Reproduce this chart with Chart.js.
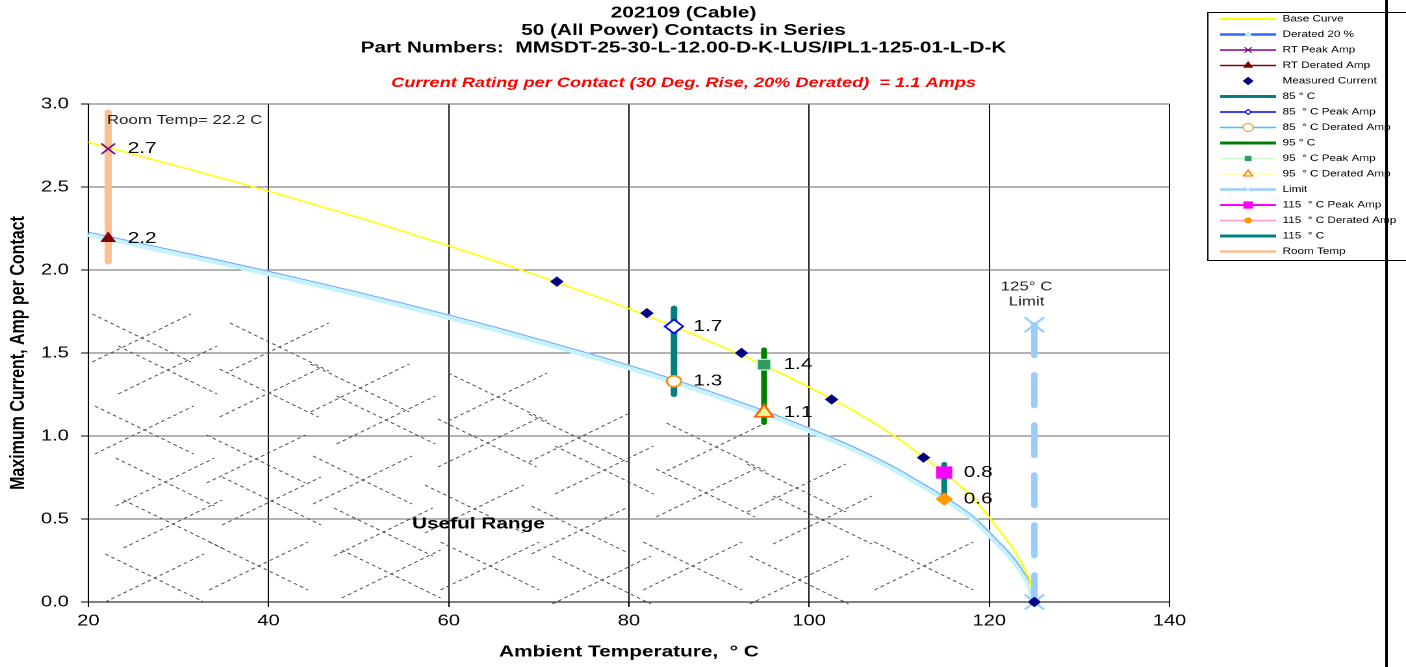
<!DOCTYPE html>
<html>
<head>
<meta charset="utf-8">
<script src="https://cdn.jsdelivr.net/npm/chart.js@4.4.1/dist/chart.umd.min.js"></script>
<style>
html, body { margin: 0; padding: 0; background: #fff; overflow: hidden; }
canvas { display: block; }
</style>
</head>
<body>
<!-- le canvas est dessiné à 1082 px de large puis étiré à 1406 px, comme l'original -->
<canvas id="graphique" width="1082" height="667" style="width:1406px;height:667px"></canvas>
<script>
const FONT = "'Liberation Sans', Arial, sans-serif";

// Courbes
const curveTemps = [20, 25, 30, 35, 40, 45, 50, 55, 60, 65, 70, 75, 80, 85, 90, 95, 100, 105, 110, 112, 114, 116, 118, 120, 121, 122, 123, 124, 124.5, 125];
const baseCurve = [2.770, 2.697, 2.624, 2.551, 2.475, 2.396, 2.316, 2.232, 2.146, 2.057, 1.964, 1.867, 1.767, 1.660, 1.546, 1.425, 1.294, 1.150, 0.980, 0.900, 0.820, 0.735, 0.640, 0.510, 0.440, 0.370, 0.290, 0.190, 0.130, 0];
const derated20 = [2.216, 2.158, 2.099, 2.041, 1.980, 1.917, 1.853, 1.786, 1.717, 1.646, 1.571, 1.494, 1.414, 1.328, 1.237, 1.140, 1.035, 0.920, 0.784, 0.720, 0.656, 0.588, 0.512, 0.408, 0.352, 0.296, 0.232, 0.152, 0.104, 0];

// Mesures
const measuredTemps = [72, 82, 92.5, 102.5, 112.7, 125];
const measuredAmps = [1.93, 1.74, 1.50, 1.22, 0.87, 0];

// Room temp, 85, 95, 115 °C
const markerTemps = [22.2, 85, 95, 115];
const peakAmps = [2.73, 1.66, 1.43, 0.78];
const deratedAmps = [2.19, 1.33, 1.14, 0.62];
const barLow = [2.05, 1.25, 1.08, 0.60];
const barHigh = [2.95, 1.77, 1.52, 0.83];

// Limite 125 °C
const limitTemp = 125;
const limitAmps = [1.67, 0];

// Axes
const xTicks = [20, 40, 60, 80, 100, 120, 140];
const yTicks = [0, 0.5, 1.0, 1.5, 2.0, 2.5, 3.0];

const titreLignes = ['202109 (Cable)', '50 (All Power) Contacts in Series', 'Part Numbers:  MMSDT-25-30-L-12.00-D-K-LUS/IPL1-125-01-L-D-K'];
const sousTitre = 'Current Rating per Contact (30 Deg. Rise, 20% Derated)  = 1.1 Amps';

function pts(xs, ys) {
    return xs.map((x, i) => ({ x: x, y: ys[i] }));
}
function bar(i) {
    return [{ x: markerTemps[i], y: barLow[i] }, { x: markerTemps[i], y: barHigh[i] }];
}
function point(x, y) {
    return [{ x: x, y: y }];
}

const datasets = [
    {
        label: 'Base Curve', data: pts(curveTemps, baseCurve),
        borderColor: '#ffff00', borderWidth: 1.5, pointRadius: 0, cubicInterpolationMode: 'monotone', order: 7,
        leg: { line: '#ffff00', lw: 2 }
    },
    {
        label: 'Derated 20 %', data: pts(curveTemps, derated20), shiftUp: 2,
        borderColor: '#7b96ff', borderWidth: 0.8, pointRadius: 0, cubicInterpolationMode: 'monotone', order: 8,
        leg: { line: '#3366ff', lw: 2.5, style: 'circle', r: 2, fill: '#cce8ff', stroke: '#cce8ff' }
    },
    {
        label: 'RT Peak Amp', data: point(markerTemps[0], peakAmps[0]), showLine: false,
        pointStyle: 'crossRot', pointRadius: 7.5, pointBorderColor: '#800080', pointBorderWidth: 1.5, order: 1,
        leg: { line: '#800080', lw: 1.5, style: 'crossRot', r: 4, fill: '#800080', stroke: '#800080' }
    },
    {
        label: 'RT Derated Amp', data: point(markerTemps[0], deratedAmps[0]), showLine: false,
        pointStyle: 'triangle', pointRadius: 6, pointBackgroundColor: '#800000', pointBorderColor: '#800000', pointBorderWidth: 1, order: 1,
        leg: { line: '#800000', lw: 1.5, style: 'triangle', r: 3.5, fill: '#800000', stroke: '#800000' }
    },
    {
        label: 'Measured Current', data: pts(measuredTemps, measuredAmps), showLine: false,
        pointStyle: 'rectRot', pointRadius: 4.5, pointBackgroundColor: '#000080', pointBorderColor: '#000080', pointBorderWidth: 1, order: 0,
        leg: { style: 'rectRot', r: 3.5, fill: '#000080', stroke: '#000080' }
    },
    {
        label: '85 ° C', data: bar(1),
        borderColor: '#008080', borderWidth: 5, borderCapStyle: 'round', pointRadius: 0, order: 5,
        leg: { line: '#008080', lw: 3 }
    },
    {
        label: '85  ° C Peak Amp', data: point(markerTemps[1], peakAmps[1]), showLine: false,
        pointStyle: 'rectRot', pointRadius: 7, pointBackgroundColor: '#ffffff', pointBorderColor: '#0000ff', pointBorderWidth: 1.6, order: 1,
        leg: { line: '#0000ff', lw: 1.5, style: 'rectRot', r: 2.5, fill: '#ffffff', stroke: '#0000ff' }
    },
    {
        label: '85  ° C Derated Amp', data: point(markerTemps[1], deratedAmps[1]), showLine: false,
        pointStyle: 'circle', pointRadius: 5.5, pointBackgroundColor: '#ffffff', pointBorderColor: '#f39a1f', pointBorderWidth: 1.8, order: 1,
        leg: { line: '#33ccff', lw: 1.5, style: 'circle', r: 4, fill: '#ffffff', stroke: '#f39a1f' }
    },
    {
        label: '95 ° C', data: bar(2),
        borderColor: '#008000', borderWidth: 4.5, borderCapStyle: 'round', pointRadius: 0, order: 5,
        leg: { line: '#008000', lw: 3 }
    },
    {
        label: '95  ° C Peak Amp', data: point(markerTemps[2], peakAmps[2]), showLine: false,
        pointStyle: 'rect', pointRadius: 7.5, pointBackgroundColor: '#339966', pointBorderColor: '#ccffcc', pointBorderWidth: 1.2, order: 1,
        leg: { line: '#ccffcc', lw: 1.5, style: 'rect', r: 3, fill: '#339966', stroke: '#339966' }
    },
    {
        label: '95  ° C Derated Amp', data: point(markerTemps[2], deratedAmps[2]), showLine: false,
        pointStyle: 'triangle', pointRadius: 8, pointBackgroundColor: '#ffff99', pointBorderColor: '#ff6600', pointBorderWidth: 1.8, order: 1,
        leg: { line: '#ffff99', lw: 1.5, style: 'triangle', r: 4, fill: '#ffff99', stroke: '#ff6600' }
    },
    {
        label: 'Limit', data: [{ x: limitTemp, y: limitAmps[0] }, { x: limitTemp, y: limitAmps[1] }],
        borderColor: '#99ccff', borderWidth: 5, borderDash: [31, 19], borderCapStyle: 'round',
        pointStyle: 'crossRot', pointRadius: 10.5, pointBorderColor: '#99ccff', pointBorderWidth: 2, order: 3,
        leg: { line: '#99ccff', lw: 2.5, style: 'crossRot', r: 4, fill: '#99ccff', stroke: '#e0efff' }
    },
    {
        label: '115  ° C Peak Amp', data: point(markerTemps[3], peakAmps[3]), showLine: false,
        pointStyle: 'rect', pointRadius: 8, pointBackgroundColor: '#ff00ff', pointBorderColor: '#ff00ff', pointBorderWidth: 1, order: 1,
        leg: { line: '#ff00ff', lw: 2, style: 'rect', r: 4.5, fill: '#ff00ff', stroke: '#ff00ff' }
    },
    {
        label: '115  ° C Derated Amp', data: point(markerTemps[3], deratedAmps[3]), showLine: false,
        pointStyle: 'rectRot', pointRadius: 6, pointBackgroundColor: '#ff9900', pointBorderColor: '#ff9900', pointBorderWidth: 1, order: 1,
        leg: { line: '#ff99cc', lw: 1.5, style: 'circle', r: 2.5, fill: '#ff9900', stroke: '#ff9900' }
    },
    {
        label: '115  ° C', data: bar(3),
        borderColor: '#008080', borderWidth: 4.5, borderCapStyle: 'round', pointRadius: 0, order: 5,
        leg: { line: '#008080', lw: 3 }
    },
    {
        label: 'Room Temp', data: bar(0),
        borderColor: '#fac090', borderWidth: 5.5, borderCapStyle: 'round', pointRadius: 0, order: 5,
        leg: { line: '#fac090', lw: 2.5 }
    },
    {
        // bande cyan sous la courbe déclassée (pas dans la légende)
        label: '', data: pts(curveTemps, derated20), band: true,
        borderColor: '#c4f3fb', borderWidth: 5.5, pointRadius: 0, cubicInterpolationMode: 'monotone', order: 9
    }
];
datasets.forEach(ds => { ds.clip = false; ds.fill = false; });

// petits décalages fixes pour casser la régularité des hachures
const decalX = [0, 10, -6, 14, -10, 4, 8, -4, 12, -8, 6];
const decalY = [0, -8, 6, -4, 10, -10, 4, 8, -6, 2, -2];

// Hachures en X sous la courbe déclassée
function dessinerHachures(chart) {
    const c = chart.ctx;
    const area = chart.chartArea;
    const idx = chart.data.datasets.findIndex(ds => ds.band);
    const p = chart.getDatasetMeta(idx).data;
    const courbeY = px => {
        for (let i = 0; i < p.length - 1; i++) {
            if (px >= p[i].x && px <= p[i + 1].x) {
                const t = (px - p[i].x) / (p[i + 1].x - p[i].x);
                return p[i].y + t * (p[i + 1].y - p[i].y);
            }
        }
        return px < p[0].x ? p[0].y : area.bottom;
    };
    c.save();
    c.strokeStyle = '#4a4a4a';
    c.lineWidth = 0.9;
    c.setLineDash([3, 2.5]);
    for (let col = 0; col < 9; col++) {
        for (let row = 0; row < 10; row++) {
            const k = (row * 3 + col * 7) % decalX.length;
            const cx = area.left + 51 + col * 84 + decalX[k];
            let cy = area.bottom - 24 - row * 50 - (col % 2) * 25 + decalY[k];
            if (row === 0) cy = Math.max(Math.min(cy, area.bottom - 22), area.bottom - 36);
            if (cx + 38 > 762) continue;
            if (cy - 24 < courbeY(cx + 38) + 6) continue;
            c.beginPath();
            c.moveTo(cx - 38, cy - 24);
            c.lineTo(cx + 38, cy + 24);
            c.moveTo(cx - 38, cy + 24);
            c.lineTo(cx + 38, cy - 24);
            c.stroke();
        }
    }
    c.restore();
}

// Valeurs écrites à côté des marqueurs + textes dans le graphique
function dessinerTextes(chart) {
    const c = chart.ctx;
    const xs = chart.scales.x;
    const ys = chart.scales.y;
    c.save();
    c.fillStyle = '#000';
    c.textBaseline = 'middle';
    c.textAlign = 'left';
    c.font = '16px ' + FONT;
    markerTemps.forEach((t, i) => {
        const px = xs.getPixelForValue(t) + 15;
        c.fillText(peakAmps[i].toFixed(1), px, ys.getPixelForValue(peakAmps[i]));
        c.fillText(deratedAmps[i].toFixed(1), px, ys.getPixelForValue(deratedAmps[i]));
    });

    c.fillStyle = '#222';
    c.font = '13px ' + FONT;
    c.fillText('Room Temp= 22.2 C', xs.getPixelForValue(markerTemps[0]) - 1, ys.getPixelForValue(2.9));

    c.textAlign = 'center';
    const lx = xs.getPixelForValue(limitTemp) - 6;
    const ly = ys.getPixelForValue(limitAmps[0]);
    c.fillText('125° C', lx, ly - 38);
    c.fillText('Limit', lx, ly - 23);

    c.fillStyle = '#000';
    c.font = 'bold 16px ' + FONT;
    c.fillText('Useful Range', xs.getPixelForValue(63.3), ys.getPixelForValue(0.47));
    c.restore();
}

function dessinerLegende(chart) {
    const c = chart.ctx;
    c.save();
    c.strokeStyle = '#000';
    c.lineWidth = 1;
    c.strokeRect(929.5, 12.5, 200, 248);
    c.textBaseline = 'middle';
    c.textAlign = 'left';
    c.font = '9px ' + FONT;
    let row = 0;
    chart.data.datasets.forEach(ds => {
        if (!ds.leg) return;
        const leg = ds.leg;
        const y = 19 + row * 15.5;
        if (leg.line) {
            c.strokeStyle = leg.line;
            c.lineWidth = leg.lw;
            c.beginPath();
            c.moveTo(939, y);
            c.lineTo(982, y);
            c.stroke();
        }
        if (leg.style) {
            c.fillStyle = leg.fill;
            c.strokeStyle = leg.stroke;
            c.lineWidth = 1;
            Chart.helpers.drawPoint(c, { pointStyle: leg.style, radius: leg.r, borderWidth: 1, rotation: 0 }, 960.5, y);
        }
        c.fillStyle = '#000';
        c.fillText(ds.label, 987, y);
        row++;
    });
    // trait noir vertical à droite
    c.fillRect(1066, 0, 2, 667);
    c.restore();
}

function dessinerTitres(chart) {
    const c = chart.ctx;
    const area = chart.chartArea;
    c.save();
    c.textAlign = 'center';
    c.textBaseline = 'middle';
    c.fillStyle = '#000';
    c.font = 'bold 16px ' + FONT;
    titreLignes.forEach((t, i) => c.fillText(t, 526, 13 + i * 17.5));
    c.fillStyle = '#ff0000';
    c.font = 'italic bold 14px ' + FONT;
    c.fillText(sousTitre, 526, 83);

    c.fillStyle = '#000';
    c.font = 'bold 16px ' + FONT;
    c.fillText('Ambient Temperature,  ° C', (area.left + area.right) / 2, 652);
    c.translate(14, (area.top + area.bottom) / 2);
    c.rotate(-Math.PI / 2);
    c.fillText('Maximum Current, Amp per Contact', 0, 0);
    c.restore();
}

const habillage = {
    id: 'habillage',
    beforeDatasetsDraw: chart => dessinerHachures(chart),
    // la fine ligne bleue est posée sur le bord haut de la bande cyan
    beforeDatasetDraw: (chart, args) => {
        const ds = chart.data.datasets[args.index];
        if (ds.shiftUp) { chart.ctx.save(); chart.ctx.translate(0, -ds.shiftUp); }
    },
    afterDatasetDraw: (chart, args) => {
        if (chart.data.datasets[args.index].shiftUp) chart.ctx.restore();
    },
    afterDatasetsDraw: chart => dessinerTextes(chart),
    afterDraw: chart => {
        dessinerLegende(chart);
        dessinerTitres(chart);
    }
};

const ctx = document.getElementById('graphique').getContext('2d');
const myChart = new Chart(ctx, {
    type: 'line',
    data: { datasets: datasets },
    options: {
        responsive: false,
        devicePixelRatio: 2,
        animation: false,
        events: [],
        layout: { padding: { left: 0, right: 182, top: 104, bottom: 25 } },
        plugins: {
            legend: { display: false },
            tooltip: { enabled: false },
            title: { display: false }
        },
        scales: {
            x: {
                type: 'linear',
                min: xTicks[0],
                max: xTicks[xTicks.length - 1],
                afterBuildTicks: s => { s.ticks = xTicks.map(v => ({ value: v })); },
                afterFit: s => { s.height = 40; },
                ticks: { color: '#000', font: { family: FONT, size: 15.5 }, padding: 5, maxRotation: 0 },
                grid: { color: '#111', lineWidth: 1, tickLength: 5, tickColor: '#000' },
                border: { color: '#000' }
            },
            y: {
                min: yTicks[0],
                max: yTicks[yTicks.length - 1],
                afterBuildTicks: s => { s.ticks = yTicks.map(v => ({ value: v })); },
                afterFit: s => { s.width = 68; },
                ticks: { color: '#000', font: { family: FONT, size: 15.5 }, padding: 9.5, callback: v => v.toFixed(1) },
                grid: { color: '#666', lineWidth: 1, tickLength: 5.5, tickColor: '#000' },
                border: { color: '#000' }
            }
        }
    },
    plugins: [habillage]
});
</script>
</body>
</html>
